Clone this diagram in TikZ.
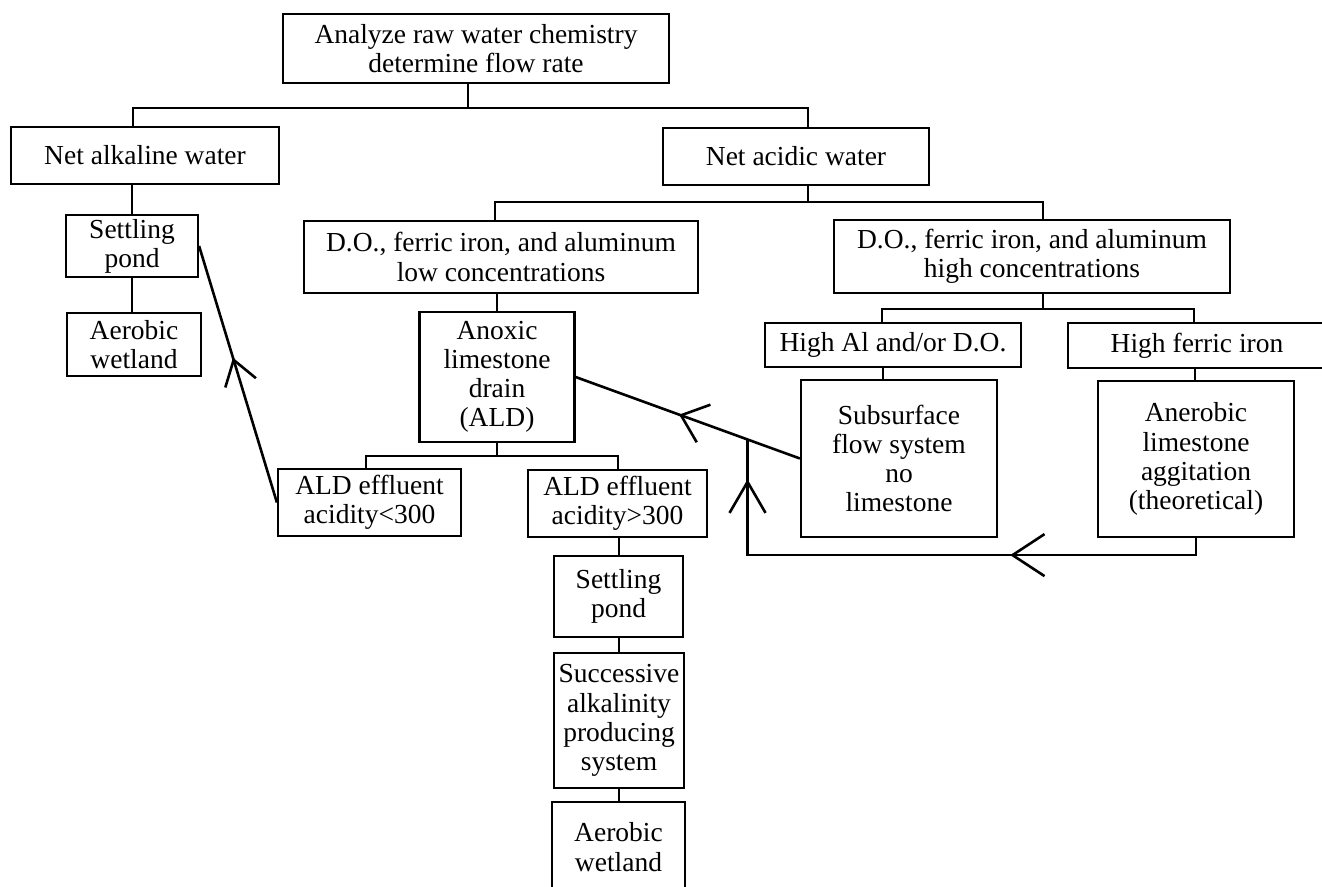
\documentclass[tikz,border=0pt]{standalone}
\usepackage{fontspec}
\setmainfont{Liberation Serif}
\usetikzlibrary{decorations.markings}
\tikzset{
  box/.style={draw, line width=2.2pt, align=center, inner sep=0pt,
    font=\fontsize{27.5}{29.2}\selectfont},
  conn/.style={line width=2pt},
  arr/.style={line width=2.6pt},
  barb/.style n args={3}{postaction={decorate,decoration={markings,
    mark=at position #1 with {\draw[line width=2.6pt,line join=miter] (-#2pt,#3pt) -- (0pt,0pt) -- (-#2pt,-#3pt);}}}}
}
\begin{document}
\begin{tikzpicture}[x=1pt,y=-1pt]
\useasboundingbox (0,0) rectangle (1322,886);
% nodes
\node[box, minimum width=386pt, minimum height=69pt] (top) at (476,48.5) {Analyze raw water chemistry\\determine flow rate};
\node[box, minimum width=268pt, minimum height=57pt] (alk) at (145,155.5) {Net alkaline water};
\node[box, minimum width=266pt, minimum height=57pt] (acid) at (796,156.5) {Net acidic water};
\node[box, minimum width=394pt, minimum height=72pt] (low) at (501,257) {D.O., ferric iron, and aluminum\\low concentrations};
\node[box, minimum width=396pt, minimum height=73pt] (high) at (1032,256.5) {D.O., ferric iron, and aluminum\\high concentrations};
\node[box, minimum width=132pt, minimum height=62pt] (sp1) at (132,246) {Settling\\pond};
\node[box, minimum width=134pt, minimum height=63pt] (aw1) at (134,344.5) {Aerobic\\wetland};
\node[box, minimum width=155pt, minimum height=130pt] (anox) at (497,377) {Anoxic\\limestone\\drain\\(ALD)};
\node[box, minimum width=183pt, minimum height=67pt] (ald1) at (369.5,502.5) {ALD effluent\\acidity<300};
\node[box, minimum width=179pt, minimum height=67pt] (ald2) at (617.5,503.5) {ALD effluent\\acidity>300};
\node[box, minimum width=129pt, minimum height=81pt] (sp2) at (618.5,596.5) {Settling\\pond};
\node[box, minimum width=130pt, minimum height=135pt] (sap) at (619,720.5) {Successive\\alkalinity\\producing\\system};
\node[box, minimum width=133pt, minimum height=90pt] (aw2) at (618.5,847) {Aerobic\\wetland};
\node[box, minimum width=256pt, minimum height=44pt] (hal) at (893,345) {High Al and/or D.O.};
\node[box, minimum width=258pt, minimum height=45pt] (hfi) at (1197,345.5) {High ferric iron};
\node[box, minimum width=196pt, minimum height=157pt] (sub) at (899,458.5) {Subsurface\\flow system\\no\\limestone};
\node[box, minimum width=196pt, minimum height=156pt] (anae) at (1196,459) {Anerobic\\limestone\\aggitation\\(theoretical)};
% tree connectors
\coordinate (b1) at (468,108);
\draw[conn] (top.south -| b1) -- (b1);
\draw[conn] ([xshift=-12pt]alk.north) |- (b1) -| ([xshift=12pt]acid.north);
\coordinate (b2) at (808,202);
\draw[conn] (acid.south -| b2) -- (b2);
\draw[conn] ([xshift=-6.5pt]low.north) |- (b2) -| ([xshift=11pt]high.north);
\draw[conn] (sp1.north) -- (sp1.north |- alk.south);
\draw[conn] (sp1.south) -- (sp1.south |- aw1.north);
\draw[conn] (anox.north) -- (anox.north |- low.south);
\coordinate (b3) at (497,456);
\draw[conn] (anox.south) -- (b3);
\draw[conn] ([xshift=-3.5pt]ald1.north) |- (b3) -| (ald2.north);
\draw[conn] (sp2.north) -- (sp2.north |- ald2.south);
\draw[conn] (sap.north) -- (sap.north |- sp2.south);
\draw[conn] (aw2.north) -- (aw2.north |- sap.south);
\coordinate (b4) at (1043,309);
\draw[conn] (high.south -| b4) -- (b4);
\draw[conn] ([xshift=-11pt]hal.north) |- (b4) -| ([xshift=-3pt]hfi.north);
\draw[conn] ([xshift=-16pt]sub.north) -- ([xshift=-16pt]sub.north |- hal.south);
\draw[conn] ([xshift=-1pt]anae.north) -- ([xshift=-1pt]anae.north |- hfi.south);
% feedback arrows
\draw[arr, barb={0.556}{24}{16}] (ald1.west) -- (sp1.east);
\draw[arr, barb={0.53}{24}{20}] (sub.west) -- (anox.east);
\path (sub.west) -- (anox.east) coordinate[pos=0.2335] (j);
\draw[arr, line join=miter, barb={0.345}{32}{21}, barb={0.927}{31}{18}] (anae.south) -- ++(0,17) -| (j);
\end{tikzpicture}
\end{document}
